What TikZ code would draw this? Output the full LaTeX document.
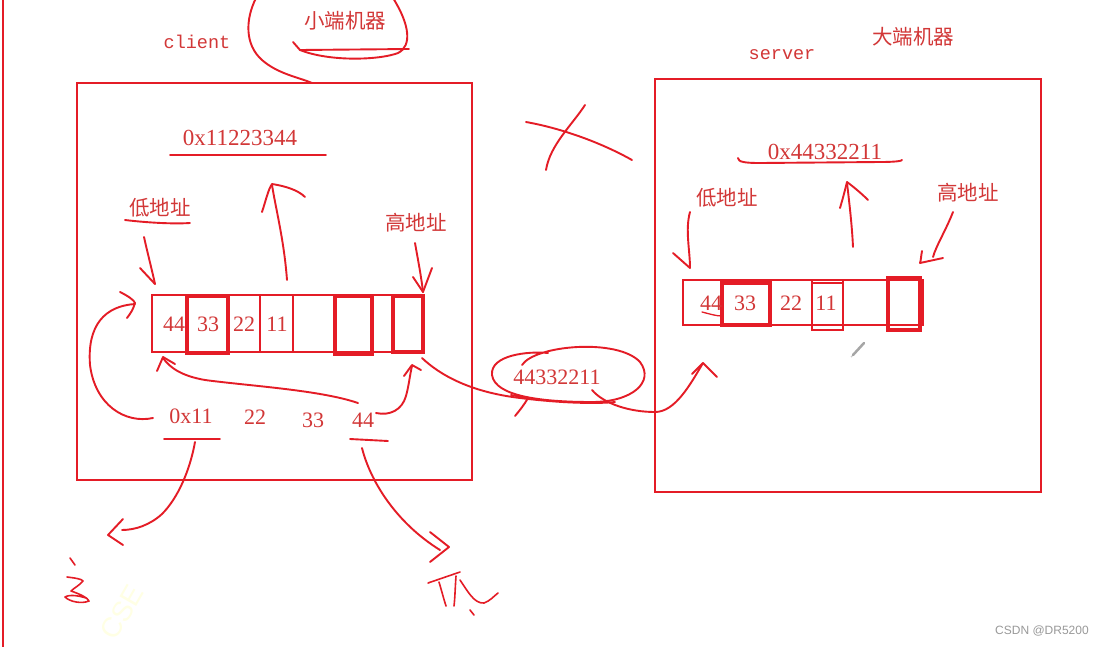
\documentclass[tikz,border=0pt]{standalone}
\usepackage{fontspec}
\setmainfont{Liberation Serif}
\newfontfamily\cjk{Noto Sans CJK SC}
\newfontfamily\monof{Liberation Mono}
\newfontfamily\wmf{Liberation Sans}
\definecolor{pen}{RGB}{228,28,38}
\definecolor{ink}{RGB}{210,55,55}
\tikzset{
  pen/.style={draw=pen,line width=1.9pt,line cap=round,line join=round},
  frame/.style={draw=pen,line width=2.8pt},
  cell/.style={draw=pen,line width=2.2pt},
  thick cell/.style={draw=pen,line width=3.4pt},
  num/.style={text=ink,font=\fontsize{22}{22}\selectfont,inner sep=0pt},
  zh/.style={text=ink,font=\cjk\fontsize{20.5}{20.5}\selectfont,inner sep=0pt},
  en/.style={text=ink,font=\monof\fontsize{18.5}{18.5}\selectfont,inner sep=0pt},
}
\begin{document}
\begin{tikzpicture}[x=1pt,y=-1pt]
\useasboundingbox (0,0) rectangle (1100,646);
\fill[white] (0,0) rectangle (1100,646);
\begin{scope}
\clip (0,0) rectangle (1100,646);
% left margin line
\draw[frame] (3,-5) -- (3,650);
% faint watermark
\node[text={rgb,255:red,255;green,255;blue,228},font=\wmf\fontsize{28}{28}\selectfont,rotate=60] (wmark) at (122,612) {CSE};

% ---------------- client ----------------
\node[en] (client) at (197,42) {client};
\node[zh] (little) at (345,21) {小端机器};
\draw[pen] (293,42) -- (300,50) -- (409,49);
\draw[pen] (300,50) .. controls (330,62) and (380,60) .. (398,53) .. controls (412,46) and (410,25) .. (393,-2);
\draw[pen] (256,-2) .. controls (245,20) and (245,45) .. (262,60) .. controls (278,74) and (298,77) .. (312,83);

\node[frame,minimum width=395pt,minimum height=397pt,inner sep=0pt] (cbox) at (274.5,281.5) {};

\node[num,font=\fontsize{23}{23}\selectfont] (cval) at (240,138) {0x11223344};
\draw[pen] (170,155) -- (326,155);
\draw[pen] (287,280) .. controls (284,240) and (276,210) .. (272,185);
\draw[pen] (262,212) .. controls (266,200) and (268,190) .. (272,184) .. controls (285,186) and (298,190) .. (305,197);

\node[zh] (clow) at (160,208) {低地址};
\draw[pen] (125,220) .. controls (150,223) and (175,224) .. (190,223);
\draw[pen] (144,237) .. controls (148,255) and (152,270) .. (155,284);
\draw[pen] (140,268) -- (155,284);

\node[zh] (chigh) at (416,223) {高地址};
\draw[pen] (415,243) .. controls (418,260) and (421,275) .. (423,292);
\draw[pen] (413,277) -- (423,292) -- (432,268);

% client cells
\draw[cell] (152,295) rectangle (423,352);
\foreach \x in {187,228,260,293,335,372,393} \draw[cell] (\x,295) -- (\x,352);
\draw[thick cell] (187,296) rectangle (228,353);
\draw[thick cell] (335,296) rectangle (372,354);
\draw[thick cell] (393,296) rectangle (423,352);
\node[num] (c44) at (174,324) {44};
\node[num] (c33) at (208,324) {33};
\node[num] (c22) at (244,324) {22};
\node[num] (c11) at (277,324) {11};

% bytes below
\node[num] (b11) at (191,416) {0x11};
\node[num] (b22) at (255,417) {22};
\node[num] (b33) at (313,420) {33};
\node[num] (b44) at (363,420) {44};
\draw[pen] (164,439) -- (220,439);
\draw[pen] (350,439) -- (388,441);

% 0x11 -> low address
\draw[pen] (153,418) .. controls (125,424) and (95,405) .. (90,365) .. controls (87,325) and (105,306) .. (135,304);
\draw[pen] (120,292) .. controls (128,296) and (134,300) .. (135,303) .. controls (133,310) and (130,314) .. (127,318);
% 44 -> low address
\draw[pen] (358,403) .. controls (320,390) and (250,386) .. (205,380) .. controls (182,376) and (170,368) .. (163,358);
\draw[pen] (157,371) -- (163,357) -- (175,364);
% 44 -> high address
\draw[pen] (376,413) .. controls (390,416) and (402,410) .. (406,396) .. controls (409,385) and (410,374) .. (412,366);
\draw[pen] (404,376) -- (412,365) -- (421,370);

% cells -> packet
\draw[pen] (422,358) .. controls (440,375) and (470,392) .. (520,398) .. controls (560,403) and (595,404) .. (615,402);
\draw[pen] (511,395) -- (528,398) .. controls (524,405) and (520,410) .. (515,416);

% packet ellipse
\node[num] (pkt) at (557,377) {44332211};
\draw[pen] (522,365) .. controls (535,345) and (618,338) .. (640,362) .. controls (655,382) and (632,402) .. (592,402) .. controls (540,402) and (495,396) .. (492,375) .. controls (490,355) and (528,351) .. (548,353);
% packet -> server
\draw[pen] (592,390) .. controls (604,404) and (630,412) .. (655,412) .. controls (675,412) and (690,385) .. (703,363);
\draw[pen] (692,374) -- (703,363) -- (717,377);

% cross
\draw[pen] (526,122) .. controls (560,128) and (600,142) .. (632,160);
\draw[pen] (585,105) .. controls (572,125) and (550,145) .. (546,170);

% client -> bottom scribbles
\draw[pen] (195,442) .. controls (190,470) and (178,498) .. (162,514) .. controls (150,525) and (135,530) .. (122,530);
\draw[pen] (123,519) -- (108,535) -- (123,545);
\draw[pen] (362,448) .. controls (370,480) and (395,522) .. (440,550);
\draw[pen] (430,532) -- (449,547) -- (430,562);
% scribble left
\draw[pen,line width=1.6pt] (70,558) -- (75,565);
\draw[pen,line width=1.6pt] (67,577) .. controls (75,578) and (82,579) .. (83,581) .. controls (80,585) and (74,588) .. (71,591) .. controls (80,594) and (88,598) .. (89,601) .. controls (82,604) and (70,602) .. (65,597) .. controls (70,594) and (80,596) .. (86,598);
% scribble right
\draw[pen,line width=1.6pt] (428,583) -- (460,572);
\draw[pen,line width=1.6pt] (439,582) .. controls (442,592) and (444,600) .. (446,606);
\draw[pen,line width=1.6pt] (456,576) .. controls (455,590) and (455,598) .. (454,606);
\draw[pen,line width=1.6pt] (460,580) .. controls (467,590) and (474,604) .. (484,603) .. controls (490,601) and (494,596) .. (498,593);
\draw[pen,line width=1.6pt] (470,610) -- (474,615);

% ---------------- server ----------------
\node[en] (server) at (782,55) {server};
\node[zh] (big) at (913,37) {大端机器};
\node[frame,minimum width=386pt,minimum height=413pt,inner sep=0pt] (sbox) at (848,285.5) {};

\node[num,font=\fontsize{23}{23}\selectfont] (sval) at (825,152) {0x44332211};
\draw[pen] (738,158) .. controls (738,162) and (745,163) .. (760,163) -- (880,162) .. controls (895,162) and (902,161) .. (902,160);
\draw[pen] (853,247) .. controls (852,225) and (849,200) .. (847,183);
\draw[pen] (840,208) .. controls (843,198) and (845,190) .. (847,182) .. controls (855,188) and (862,194) .. (868,200);

\node[zh] (slow) at (727,198) {低地址};
\draw[pen] (690,212) .. controls (685,230) and (690,250) .. (690,268);
\draw[pen] (673,253) -- (690,268);

\node[zh] (shigh) at (968,193) {高地址};
\draw[pen] (953,212) .. controls (946,230) and (936,246) .. (933,257);
\draw[pen] (922,251) .. controls (921,256) and (921,260) .. (920,263) -- (943,258);

% server cells
\draw[cell] (683,280) rectangle (923,325);
\foreach \x in {722,770,812,843,888,920} \draw[cell] (\x,280) -- (\x,325);
\draw[thick cell] (722,283) rectangle (770,325);
\draw[cell] (812,283) rectangle (843,330);
\draw[thick cell] (888,278) rectangle (920,330);
\node[num] (s44) at (711,303) {44};
\node[num] (s33) at (745,303) {33};
\node[num] (s22) at (791,303) {22};
\node[num] (s11) at (826,303) {11};
\draw[pen,line width=1.3pt] (702,312) .. controls (710,314) and (716,316) .. (722,316);

% pencil cursor
\draw[gray!70,line width=2.5pt,line cap=round] (853,355) -- (864,343);
\fill[gray!40] (851.5,356.5) circle (1pt);

% credit
\node[text=gray!80,font=\wmf\fontsize{12}{12}\selectfont,inner sep=0pt] (credit) at (1042,631) {CSDN @DR5200};
\end{scope}
\end{tikzpicture}
\end{document}
